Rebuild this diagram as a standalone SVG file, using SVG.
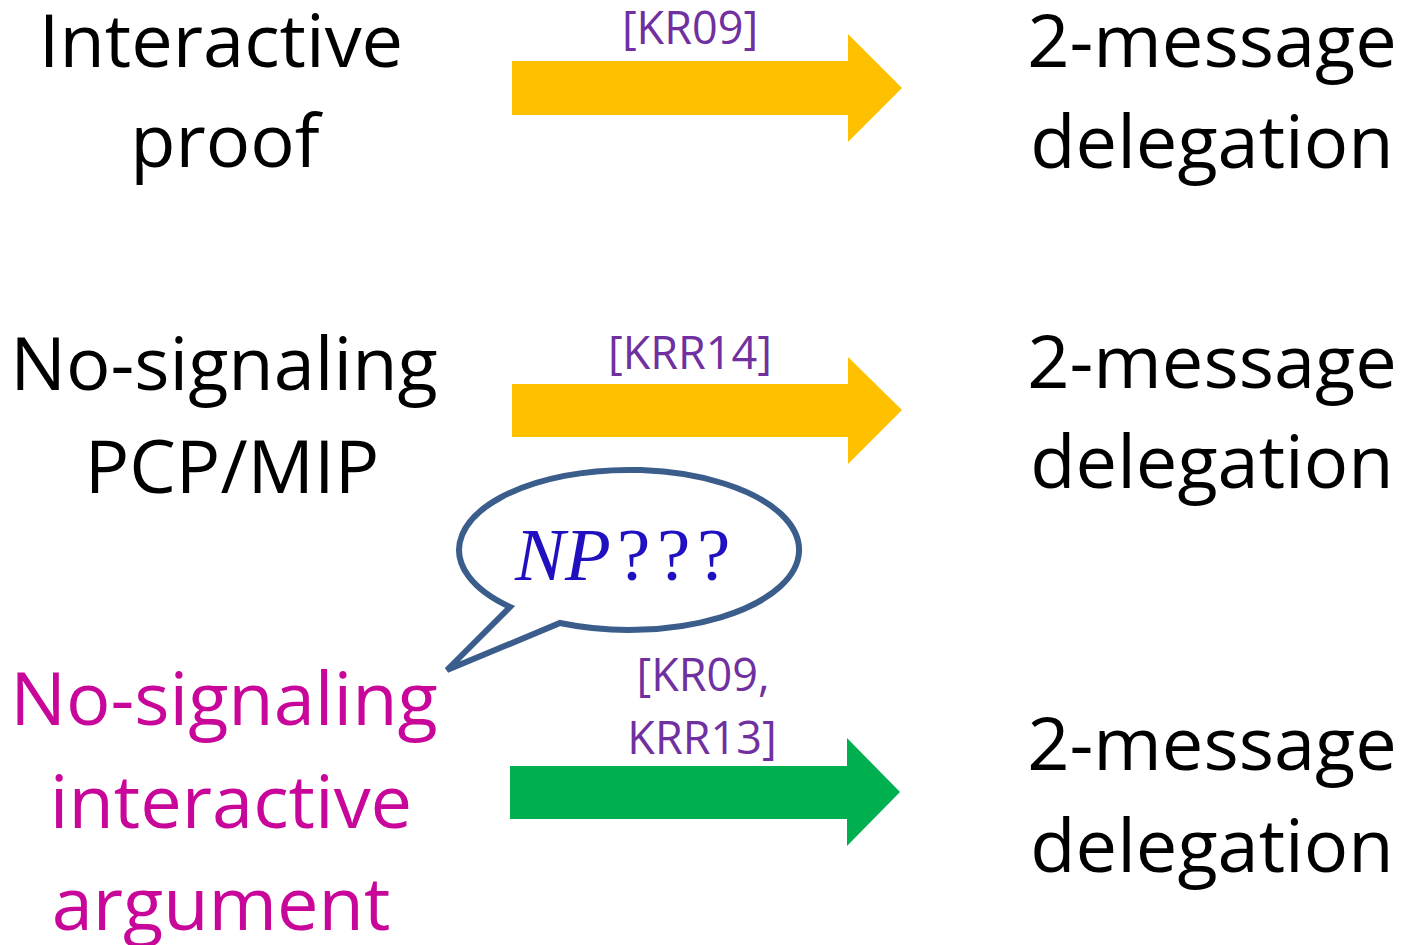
<svg xmlns="http://www.w3.org/2000/svg" width="1402" height="945" viewBox="0 0 1402 945">
<style>
.big{font-family:"Open Sans","Liberation Sans",sans-serif;font-size:74px;text-anchor:middle}
.blk{fill:#000000}
.mag{fill:#C8079A}
.ref{font-family:"Open Sans","Liberation Sans",sans-serif;font-size:45px;fill:#7030A0;text-anchor:middle}
.np{font-family:"Liberation Serif","DejaVu Serif",serif;font-size:75px;fill:#2010C0}
</style>
<rect width="1402" height="945" fill="#ffffff"/>
<g id="connectors">
<polygon id="arrow1" points="512,61 848,61 848,34 902,88 848,142 848,115 512,115" fill="#FFC000"/>
<polygon id="arrow2" points="512,384 848,384 848,357 902,410 848,464 848,437 512,437" fill="#FFC000"/>
<polygon id="arrow3" points="510,766 847,766 847,738 900,792 847,846 847,819 510,819" fill="#00B050"/>
<text class="ref" x="690" y="44">[KR09]</text>
<text class="ref" x="690" y="369">[KRR14]</text>
<text class="ref" x="703" y="691">[KR09,</text>
<text class="ref" x="702" y="754">KRR13]</text>
</g>
<g id="node-ip">
<text class="big blk" x="221" y="67">Interactive</text>
<text class="big blk" x="225" y="167">proof</text>
</g>
<g id="node-nspcp">
<text class="big blk" x="224" y="390">No-signaling</text>
<text class="big blk" x="232" y="493">PCP/MIP</text>
</g>
<g id="node-nsia">
<text class="big mag" x="224" y="725">No-signaling</text>
<text class="big mag" x="231" y="828">interactive</text>
<text class="big mag" x="221" y="930">argument</text>
</g>
<g id="node-d1">
<text class="big blk" x="1212" y="67">2-message</text>
<text class="big blk" x="1212" y="168">delegation</text>
</g>
<g id="node-d2">
<text class="big blk" x="1212" y="388">2-message</text>
<text class="big blk" x="1212" y="488">delegation</text>
</g>
<g id="node-d3">
<text class="big blk" x="1212" y="770">2-message</text>
<text class="big blk" x="1212" y="872">delegation</text>
</g>
<g id="node-bubble">
<path d="M 560 623 A 170 80 0 1 0 510 607 L 447 670 Z" fill="#ffffff" stroke="#3A5D8B" stroke-width="6" stroke-linejoin="miter"/>
<text class="np" y="580"><tspan x="515" font-style="italic">NP</tspan><tspan x="617">?</tspan><tspan x="657">?</tspan><tspan x="697">?</tspan></text>
</g>
</svg>
